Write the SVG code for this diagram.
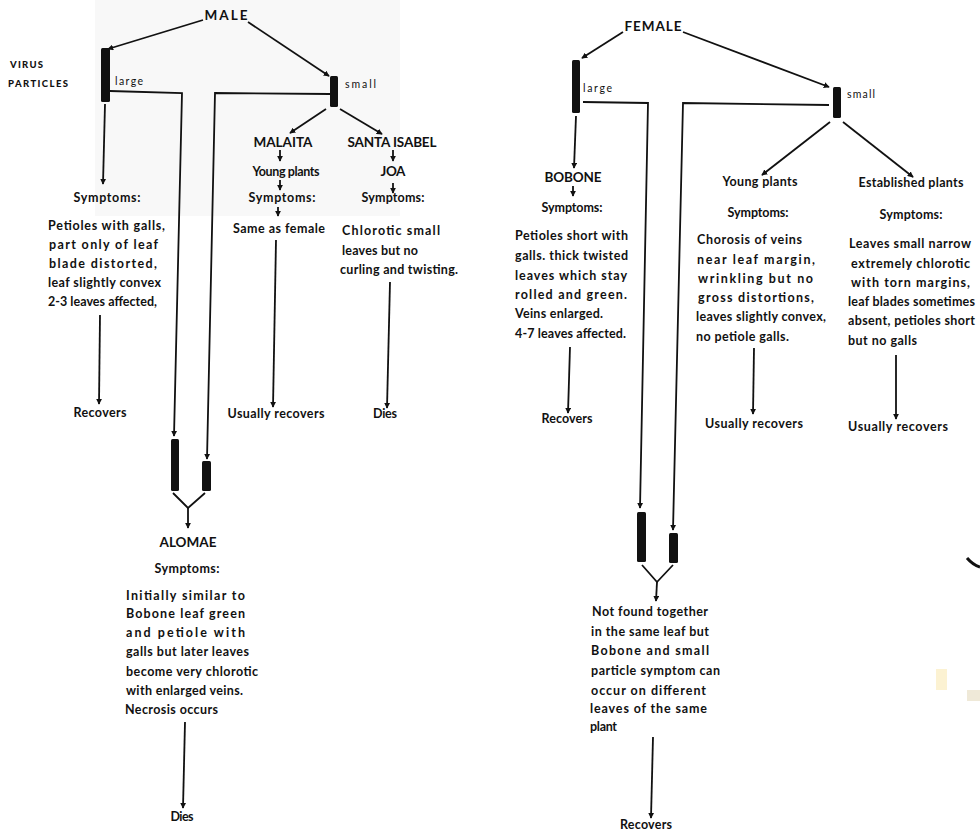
<svg xmlns="http://www.w3.org/2000/svg" width="980" height="834" viewBox="0 0 980 834">
<defs>
<style>
.t{font-family:Lato,"Open Sans","Liberation Sans",sans-serif;font-weight:700;font-size:12.5px;fill:#111}
.h{font-size:13.5px}
.s{font-size:10.5px;font-weight:400}
.v{font-size:9.5px;font-weight:900}
.c{text-anchor:middle}
.ln{fill:none;stroke:#111;stroke-width:1.8;stroke-linejoin:miter}
.bar{fill:#111}
</style>
<marker id="ah" viewBox="0 0 8 8" refX="7" refY="4" markerWidth="6" markerHeight="6" markerUnits="userSpaceOnUse" orient="auto">
<path d="M0,0 L8,4 L0,8 z" fill="#111"/>
</marker>
</defs>
<rect width="980" height="834" fill="#fff"/>
<rect x="95" y="0" width="305" height="216" fill="#f8f8f8"/>
<g id="connectors">
<path class="ln" d="M203,20 L108,49" marker-end="url(#ah)"/>
<path class="ln" d="M248,22 L329,76" marker-end="url(#ah)"/>
<path class="ln" d="M110,91 L182,93 L174,436" marker-end="url(#ah)"/>
<path class="ln" d="M330,94 L215,93 L207,459" marker-end="url(#ah)"/>
<path class="ln" d="M105,104 L103,184" marker-end="url(#ah)"/>
<path class="ln" d="M100,315 L99,404" marker-end="url(#ah)"/>
<path class="ln" d="M326,109 L290,133" marker-end="url(#ah)"/>
<path class="ln" d="M340,109 L382,134" marker-end="url(#ah)"/>
<path class="ln" d="M280,150 L280,161" marker-end="url(#ah)"/>
<path class="ln" d="M280,180 L280,190" marker-end="url(#ah)"/>
<path class="ln" d="M278,207 L278,216" marker-end="url(#ah)"/>
<path class="ln" d="M276,240 L273,407" marker-end="url(#ah)"/>
<path class="ln" d="M393,150 L393,161" marker-end="url(#ah)"/>
<path class="ln" d="M393,183 L393,193" marker-end="url(#ah)"/>
<path class="ln" d="M390,282 L387,408" marker-end="url(#ah)"/>
<path class="ln" d="M173,493 L188,508 L205,493"/>
<path class="ln" d="M188,508 L188,528" marker-end="url(#ah)"/>
<path class="ln" d="M185,722 L183,808" marker-end="url(#ah)"/>
<path class="ln" d="M623,32 L582,58" marker-end="url(#ah)"/>
<path class="ln" d="M683,32 L829,87" marker-end="url(#ah)"/>
<path class="ln" d="M583,102 L648,103 L640,508" marker-end="url(#ah)"/>
<path class="ln" d="M829,105 L683,103 L673,530" marker-end="url(#ah)"/>
<path class="ln" d="M576,116 L574,168" marker-end="url(#ah)"/>
<path class="ln" d="M573,186 L573,196" marker-end="url(#ah)"/>
<path class="ln" d="M570,347 L568,413" marker-end="url(#ah)"/>
<path class="ln" d="M830,122 L762,175" marker-end="url(#ah)"/>
<path class="ln" d="M843,122 L913,177" marker-end="url(#ah)"/>
<path class="ln" d="M754,348 L753,414" marker-end="url(#ah)"/>
<path class="ln" d="M896,355 L896,419" marker-end="url(#ah)"/>
<path class="ln" d="M642,565 L657,582 L673,565"/>
<path class="ln" d="M657,582 L656,601" marker-end="url(#ah)"/>
<path class="ln" d="M653,737 L651,818" marker-end="url(#ah)"/>
</g>
<g id="male">
<text class="t h c" x="226" y="20" textLength="43">MALE</text>
</g>
<g id="virus-particles">
<text class="t v" x="10" y="68" textLength="33">VIRUS</text>
<text class="t v" x="8" y="87" textLength="60">PARTICLES</text>
</g>
<g id="male-large">
<rect class="bar" x="101" y="48" width="9" height="54" rx="1.5"/>
<text class="t s" x="115" y="85" textLength="28">large</text>
</g>
<g id="male-small">
<rect class="bar" x="330" y="76" width="8" height="31" rx="1.5"/>
<text class="t s" x="345" y="88" textLength="31">small</text>
</g>
<g id="male-large-symptoms">
<text class="t c" x="107" y="202" textLength="67">Symptoms:</text>
<text class="t" x="48" y="230" textLength="117" lengthAdjust="spacing">Petioles with galls,</text>
<text class="t" x="49" y="249" textLength="109" lengthAdjust="spacing">part only of leaf</text>
<text class="t" x="49" y="268" textLength="108" lengthAdjust="spacing">blade distorted,</text>
<text class="t" x="48" y="287" textLength="113" lengthAdjust="spacing">leaf slightly convex</text>
<text class="t" x="48" y="306" textLength="109" lengthAdjust="spacing">2-3 leaves affected,</text>
</g>
<g id="male-large-recovers">
<text class="t c" x="100" y="417" textLength="53">Recovers</text>
</g>
<g id="malaita">
<text class="t h c" x="283" y="147" textLength="59">MALAITA</text>
<text class="t c" x="286" y="176" textLength="67">Young plants</text>
<text class="t c" x="282" y="202" textLength="67">Symptoms:</text>
<text class="t c" x="279" y="233" textLength="92">Same as female</text>
</g>
<g id="malaita-outcome">
<text class="t c" x="276" y="418" textLength="97">Usually recovers</text>
</g>
<g id="santa-isabel">
<text class="t h c" x="392" y="147" textLength="89">SANTA ISABEL</text>
<text class="t h c" x="393" y="176" textLength="25">JOA</text>
<text class="t c" x="393" y="202" textLength="63">Symptoms:</text>
<text class="t" x="342" y="235" textLength="98" lengthAdjust="spacing">Chlorotic small</text>
<text class="t" x="342" y="255" textLength="76" lengthAdjust="spacing">leaves but no</text>
<text class="t" x="340" y="274" textLength="118" lengthAdjust="spacing">curling and twisting.</text>
</g>
<g id="santa-isabel-outcome">
<text class="t c" x="385" y="418" textLength="24">Dies</text>
</g>
<g id="male-combined">
<rect class="bar" x="171" y="439" width="8" height="52" rx="1.5"/>
<rect class="bar" x="202" y="461" width="9" height="30" rx="1.5"/>
</g>
<g id="alomae">
<text class="t h c" x="188" y="547" textLength="57">ALOMAE</text>
<text class="t c" x="187" y="573" textLength="65">Symptoms:</text>
<text class="t" x="126" y="600" textLength="119" lengthAdjust="spacing">Initially similar to</text>
<text class="t" x="126" y="618" textLength="119" lengthAdjust="spacing">Bobone leaf green</text>
<text class="t" x="126" y="637" textLength="119" lengthAdjust="spacing">and petiole with</text>
<text class="t" x="126" y="656" textLength="123" lengthAdjust="spacing">galls but later leaves</text>
<text class="t" x="126" y="676" textLength="132" lengthAdjust="spacing">become very chlorotic</text>
<text class="t" x="126" y="695" textLength="117" lengthAdjust="spacing">with enlarged veins.</text>
<text class="t" x="125" y="714" textLength="93" lengthAdjust="spacing">Necrosis occurs</text>
</g>
<g id="alomae-outcome">
<text class="t c" x="182" y="821" textLength="23">Dies</text>
</g>
<g id="female">
<text class="t h c" x="653" y="31" textLength="57">FEMALE</text>
</g>
<g id="female-large">
<rect class="bar" x="572" y="60" width="8" height="53" rx="1.5"/>
<text class="t s" x="583" y="92" textLength="29">large</text>
</g>
<g id="female-small">
<rect class="bar" x="833" y="87" width="8" height="31" rx="1.5"/>
<text class="t s" x="847" y="98" textLength="28">small</text>
</g>
<g id="bobone">
<text class="t h c" x="573" y="182" textLength="57">BOBONE</text>
<text class="t c" x="572" y="212" textLength="61">Symptoms:</text>
<text class="t" x="515" y="240" textLength="113" lengthAdjust="spacing">Petioles short with</text>
<text class="t" x="515" y="260" textLength="113" lengthAdjust="spacing">galls. thick twisted</text>
<text class="t" x="515" y="280" textLength="112" lengthAdjust="spacing">leaves which stay</text>
<text class="t" x="515" y="299" textLength="112" lengthAdjust="spacing">rolled and green.</text>
<text class="t" x="515" y="318" textLength="88" lengthAdjust="spacing">Veins enlarged.</text>
<text class="t" x="515" y="338" textLength="111" lengthAdjust="spacing">4-7 leaves affected.</text>
</g>
<g id="bobone-outcome">
<text class="t c" x="567" y="423" textLength="51">Recovers</text>
</g>
<g id="female-young">
<text class="t c" x="760" y="186" textLength="75">Young plants</text>
<text class="t c" x="758" y="217" textLength="61">Symptoms:</text>
<text class="t" x="697" y="244" textLength="105" lengthAdjust="spacing">Chorosis of veins</text>
<text class="t" x="697" y="264" textLength="118" lengthAdjust="spacing">near leaf margin,</text>
<text class="t" x="698" y="283" textLength="115" lengthAdjust="spacing">wrinkling but no</text>
<text class="t" x="698" y="302" textLength="116" lengthAdjust="spacing">gross distortions,</text>
<text class="t" x="696" y="321" textLength="130" lengthAdjust="spacing">leaves slightly convex,</text>
<text class="t" x="696" y="341" textLength="93" lengthAdjust="spacing">no petiole galls.</text>
</g>
<g id="female-young-outcome">
<text class="t c" x="754" y="428" textLength="98">Usually recovers</text>
</g>
<g id="female-established">
<text class="t c" x="911" y="187" textLength="105">Established plants</text>
<text class="t c" x="911" y="219" textLength="63">Symptoms:</text>
<text class="t" x="849" y="248" textLength="122" lengthAdjust="spacing">Leaves small narrow</text>
<text class="t" x="851" y="268" textLength="119" lengthAdjust="spacing">extremely chlorotic</text>
<text class="t" x="851" y="287" textLength="119" lengthAdjust="spacing">with torn margins,</text>
<text class="t" x="848" y="306" textLength="127" lengthAdjust="spacing">leaf blades sometimes</text>
<text class="t" x="848" y="325" textLength="127" lengthAdjust="spacing">absent, petioles short</text>
<text class="t" x="848" y="345" textLength="69" lengthAdjust="spacing">but no galls</text>
</g>
<g id="female-established-outcome">
<text class="t c" x="898" y="431" textLength="100">Usually recovers</text>
</g>
<g id="female-combined">
<rect class="bar" x="637" y="512" width="9" height="50" rx="1.5"/>
<rect class="bar" x="669" y="533" width="9" height="30" rx="1.5"/>
</g>
<g id="female-combined-note">
<text class="t" x="592" y="616" textLength="116" lengthAdjust="spacing">Not found together</text>
<text class="t" x="591" y="636" textLength="118" lengthAdjust="spacing">in the same leaf but</text>
<text class="t" x="591" y="655" textLength="118" lengthAdjust="spacing">Bobone and small</text>
<text class="t" x="591" y="675" textLength="129" lengthAdjust="spacing">particle symptom can</text>
<text class="t" x="591" y="695" textLength="115" lengthAdjust="spacing">occur on different</text>
<text class="t" x="590" y="713" textLength="117" lengthAdjust="spacing">leaves of the same</text>
<text class="t" x="590" y="731" textLength="27" lengthAdjust="spacing">plant</text>
</g>
<g id="female-combined-outcome">
<text class="t c" x="646" y="829" textLength="52">Recovers</text>
</g>
<path d="M967,558 Q973,565 980,567" fill="none" stroke="#111" stroke-width="3"/>
<rect x="936" y="669" width="11" height="21" fill="#fcf2d2"/>
<rect x="967" y="690" width="13" height="11" fill="#efe9d8"/>
</svg>
